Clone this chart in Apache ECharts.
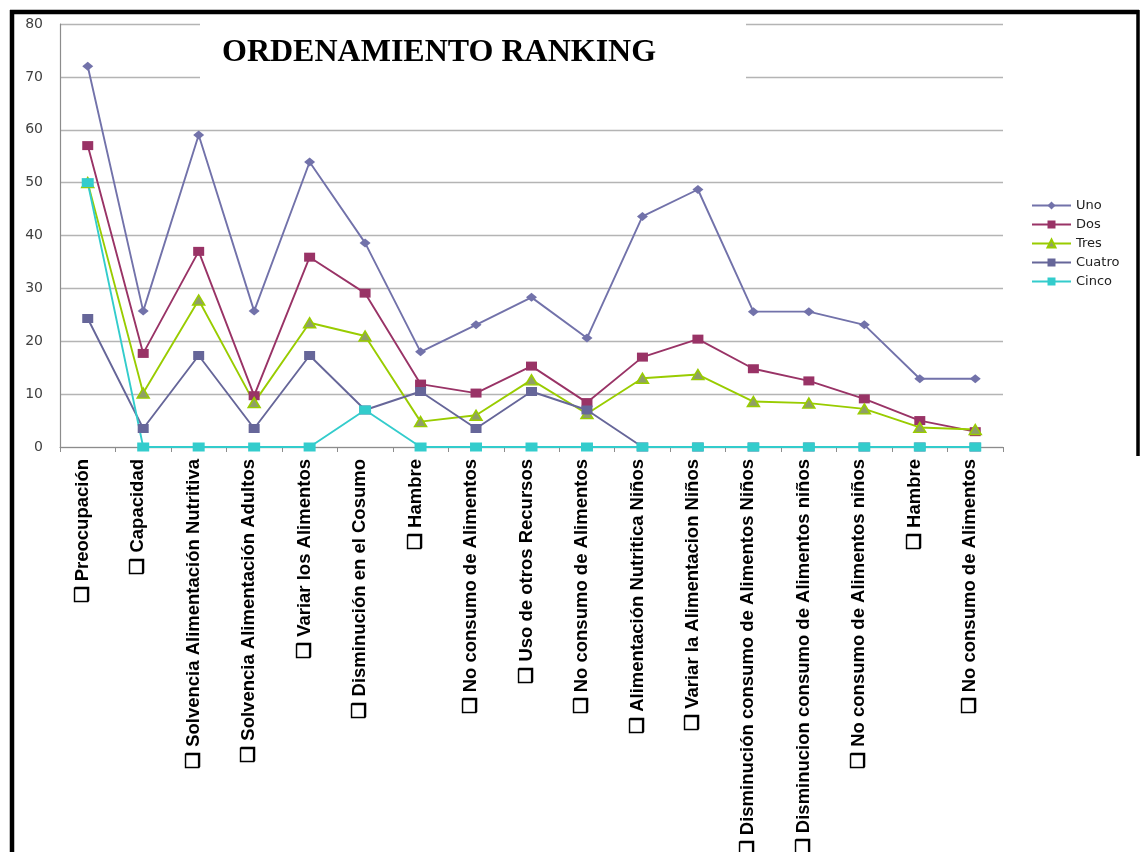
<!DOCTYPE html>
<html>
<head>
<meta charset="utf-8">
<script src="https://cdn.jsdelivr.net/npm/echarts@6/dist/echarts.min.js"></script>
<style>
html, body { margin: 0; padding: 0; background: #fff; }
#chart { width: 1141px; height: 852px; }
</style>
</head>
<body>
<div id="chart"></div>
<script>
// categorias del eje x
const categories = [
    'Preocupación', 'Capacidad', 'Solvencia Alimentación Nutritiva', 'Solvencia Alimentación Adultos',
    'Variar los Alimentos', 'Disminución en el Cosumo', 'Hambre', 'No consumo de Alimentos',
    'Uso de otros Recursos', 'No consumo de Alimentos', 'Alimentación Nutritica Niños',
    'Variar la Alimentacion Niños', 'Disminución consumo de Alimentos Niños',
    'Disminucion consumo de Alimentos niños', 'No consumo de Alimentos niños', 'Hambre',
    'No consumo de Alimentos'
];
const seriesNames = ['Uno', 'Dos', 'Tres', 'Cuatro', 'Cinco'];
const uno = [72, 25.7, 59, 25.7, 53.9, 38.6, 18, 23.1, 28.3, 20.6, 43.6, 48.7, 25.6, 25.6, 23.1, 12.9, 12.9];
const dos = [57, 17.7, 37, 9.7, 35.9, 29.1, 11.9, 10.2, 15.3, 8.4, 17, 20.4, 14.8, 12.5, 9.1, 5, 2.9];
const tres = [50, 10.2, 27.8, 8.4, 23.5, 21, 4.8, 6, 12.7, 6.3, 13, 13.7, 8.6, 8.3, 7.2, 3.7, 3.3];
const cuatro = [24.3, 3.5, 17.3, 3.5, 17.3, 7, 10.5, 3.5, 10.5, 7, 0, 0, 0, 0, 0, 0, 0];
const cinco = [50, 0, 0, 0, 0, 7, 0, 0, 0, 0, 0, 0, 0, 0, 0, 0, 0];
const yTicks = { min: 0, max: 80, interval: 10 };

const colors = ['#7272aa', '#993366', '#99cc00', '#666699', '#33cccc'];

function lineSeries(name, data, color, symbol, size, fill) {
    return {
        name: name,
        type: 'line',
        data: data,
        symbol: symbol,
        symbolSize: size,
        lineStyle: { color: color, width: 1.9 },
        itemStyle: { color: fill || color, borderColor: color, borderWidth: fill ? 1.5 : 0 },
        emphasis: { disabled: true }
    };
}

const chart = echarts.init(document.getElementById('chart'));
chart.setOption({
    animation: false,
    title: {
        text: 'ORDENAMIENTO RANKING',
        left: 222,
        top: 37,
        padding: 0,
        textStyle: { fontFamily: 'Liberation Serif', fontWeight: 'bold', fontSize: 32, color: '#000' }
    },
    legend: {
        orient: 'vertical',
        left: 1031,
        top: 199,
        padding: 0,
        itemWidth: 39,
        itemHeight: 10,
        itemGap: 6,
        textStyle: { fontFamily: 'DejaVu Sans', fontSize: 13, color: '#222' },
        data: seriesNames
    },
    grid: { left: 60, right: 138, top: 24, bottom: 405, outerBoundsMode: 'none' },
    xAxis: {
        type: 'category',
        data: categories,
        axisLine: { lineStyle: { color: '#8c8c8c', width: 1.2 } },
        axisTick: { show: true, length: 5, lineStyle: { color: '#8c8c8c' } },
        axisLabel: {
            rotate: 90,
            interval: 0,
            margin: 12,
            verticalAlign: 'bottom',
            lineHeight: 10,
            fontFamily: 'Liberation Sans',
            fontWeight: 'bold',
            fontSize: 18.5,
            color: '#000',
            formatter: v => '\u2751 ' + v
        }
    },
    yAxis: {
        type: 'value',
        min: yTicks.min,
        max: yTicks.max,
        interval: yTicks.interval,
        axisLine: { show: true, lineStyle: { color: '#8c8c8c', width: 1.2 } },
        axisTick: { show: false },
        axisLabel: { margin: 17, fontFamily: 'DejaVu Sans', fontSize: 14, color: '#404040' },
        splitLine: { lineStyle: { color: '#b4b4b4', width: 1.3 } }
    },
    graphic: [
        // recuadro blanco del titulo, tapa las lineas de division
        { type: 'rect', z: 3, shape: { x: 200, y: 15, width: 546, height: 77 }, style: { fill: '#fff' } },
        // marco negro
        { type: 'line', z: 10, shape: { x1: 10, y1: 12, x2: 1139, y2: 12 }, style: { stroke: '#000', lineWidth: 4.5 } },
        { type: 'line', z: 10, shape: { x1: 12, y1: 10, x2: 12, y2: 852 }, style: { stroke: '#000', lineWidth: 4.5 } },
        { type: 'line', z: 10, shape: { x1: 1138, y1: 10, x2: 1138, y2: 456 }, style: { stroke: '#000', lineWidth: 3.5 } }
    ],
    series: [
        lineSeries('Uno', uno, colors[0], 'diamond', [11, 9]),
        lineSeries('Dos', dos, colors[1], 'rect', [11, 9]),
        lineSeries('Tres', tres, colors[2], 'triangle', [12, 10], '#8f9f66'),
        lineSeries('Cuatro', cuatro, colors[3], 'rect', [11, 9]),
        lineSeries('Cinco', cinco, colors[4], 'rect', [12, 9])
    ]
});
</script>
</body>
</html>
